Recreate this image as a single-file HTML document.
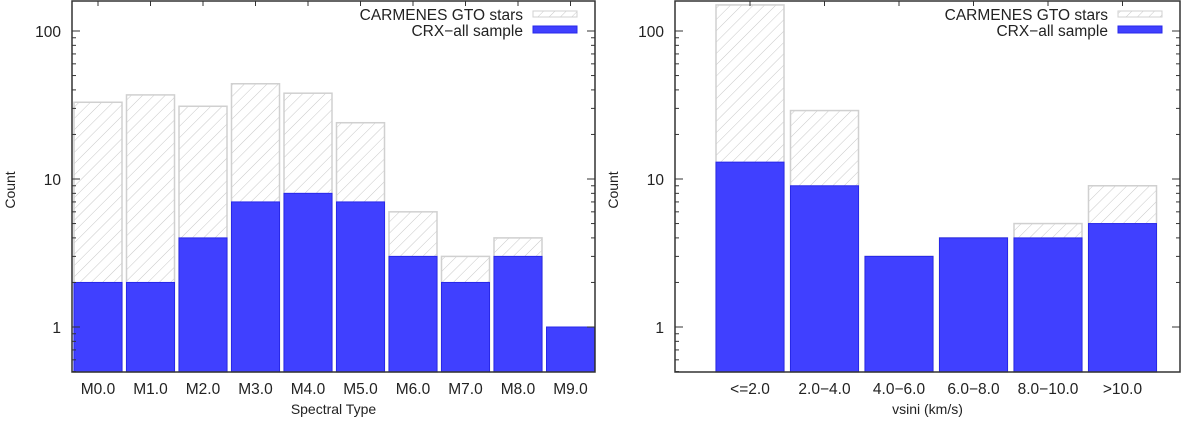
<!DOCTYPE html>
<html><head><meta charset="utf-8"><style>
body{margin:0;background:#fff;width:1200px;height:420px;overflow:hidden}
svg{font-family:"Liberation Sans",sans-serif}
</style></head><body>
<svg id="c" width="1200" height="420">
<defs><pattern id="hatch" patternUnits="userSpaceOnUse" width="8" height="8" patternTransform="rotate(45)">
<line x1="0" y1="0" x2="0" y2="8" stroke="#c8c8c8" stroke-width="1"/></pattern></defs>
</svg>
<script>
const leftCats=["M0.0","M1.0","M2.0","M3.0","M4.0","M5.0","M6.0","M7.0","M8.0","M9.0"];
const leftGto=[33,37,31,44,38,24,6,3,4,0];
const leftCrx=[2,2,4,7,8,7,3,2,3,1];
const rightCats=["<=2.0","2.0\u22124.0","4.0\u22126.0","6.0\u22128.0","8.0\u221210.0",">10.0"];
const rightGto=[150,29,3,4,5,9];
const rightCrx=[13,9,3,4,4,5];
const yTicks=[1,10,100];
const svg=document.getElementById('c');
const NS="http://www.w3.org/2000/svg";
function mk(t,a,p){const e=document.createElementNS(NS,t);for(const k in a)e.setAttribute(k,a[k]);(p||svg).appendChild(e);return e;}
const Y1=327,DEC=148,BOT=372,TOP=1;
function y(v){return Y1-Math.log10(v)*DEC;}
function panel(name,x0,x1,first,slot,bw,cats,gto,crx,xtitle){
  const g=mk('g',{});
  
  
  cats.forEach((c,i)=>{
    const bx=first+i*slot;
    if(gto[i]>0){
      const r=mk('rect',{x:bx,y:y(gto[i]),width:bw,height:BOT-y(gto[i]),fill:'url(#hatch)',stroke:'#d0d0d0','stroke-width':1.5},g);
      
      
    }
    const b=mk('rect',{x:bx,y:y(crx[i]),width:bw,height:BOT-y(crx[i]),fill:'#4040ff',stroke:'#2828e8','stroke-width':1},g);
    
    
    const cx=bx+bw/2;
    mk('line',{x1:cx,x2:cx,y1:TOP,y2:TOP+5,stroke:'#333'},g);
    const t=mk('text',{x:cx,y:394,'font-size':15.5,'text-anchor':'middle',fill:'#222'},g);
    t.textContent=c;
    
    
  });
  mk('rect',{x:x0,y:TOP,width:x1-x0,height:BOT-TOP,fill:'none',stroke:'#333','stroke-width':1.5},g);
  for(let d=0;d<=2;d++){for(let m=1;m<=9;m++){const v=m*Math.pow(10,d);const yy=y(v);if(yy<TOP||yy>BOT)continue;
    const L=m==1?8:4;mk('line',{x1:x0,x2:x0+L,y1:yy,y2:yy,stroke:'#333'},g);mk('line',{x1:x1,x2:x1-L,y1:yy,y2:yy,stroke:'#333'},g);}}
  for(let m=5;m<=9;m++){const yy=y(m/10);if(yy<BOT)mk('line',{x1:x0,x2:x0+4,y1:yy,y2:yy,stroke:'#333'},g);}
  yTicks.forEach(v=>{const t=mk('text',{x:x0-11,y:y(v)+6,'font-size':15.5,'text-anchor':'end',fill:'#222'},g);t.textContent=v;
    });
  const yt=mk('text',{x:0,y:0,'font-size':14,'text-anchor':'middle',fill:'#222',transform:`translate(${x0-57},190) rotate(-90)`},g);
  yt.textContent='Count';
  const xt=mk('text',{x:(x0+x1)/2,y:414,'font-size':14,'text-anchor':'middle',fill:'#222'},g);
  xt.textContent=xtitle;
  const lg=mk('g',{},g);
  const lx=x1-62;
  const t1=mk('text',{x:lx-10,y:20,'font-size':15.5,'text-anchor':'end',fill:'#222'},lg);t1.textContent='CARMENES GTO stars';
  mk('rect',{x:lx,y:11,width:44,height:6,fill:'url(#hatch)',stroke:'#d0d0d0'},lg);
  const t2=mk('text',{x:lx-10,y:36,'font-size':15.5,'text-anchor':'end',fill:'#222'},lg);t2.textContent='CRX\u2212all sample';
  mk('rect',{x:lx,y:26,width:44,height:7,fill:'#4040ff',stroke:'#2828e8'},lg);
}
panel('spectral-type-panel',72,595,74,52.5,48,leftCats,leftGto,leftCrx,'Spectral Type');
panel('vsini-panel',675,1180,716,74.5,68,rightCats,rightGto,rightCrx,'vsini (km/s)');
</script>
</body></html>
